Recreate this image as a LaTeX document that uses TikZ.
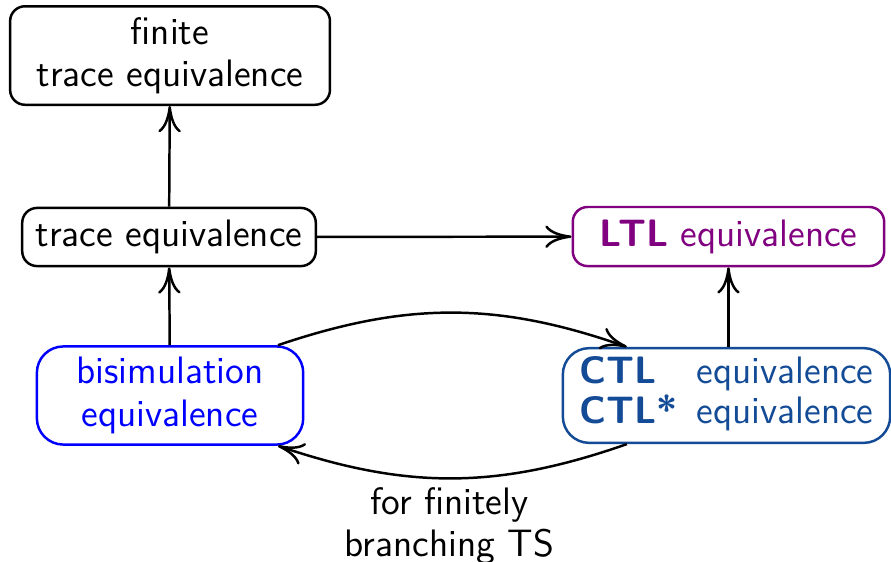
\documentclass[tikz,border=0pt]{standalone}
\usepackage{tikz}
\usetikzlibrary{arrows.meta, positioning}
\definecolor{BisimBlue}{RGB}{0, 0, 255}
\definecolor{CtlBlue}{RGB}{20, 75, 150}
\definecolor{LtlPurple}{RGB}{128, 0, 128}

\begin{document}
\begin{tikzpicture}[
  eqbox/.style={draw, rounded corners=4.5pt, line width=0.75pt, font=\sffamily\fontsize{11.6}{12.8}\selectfont, align=center, inner xsep=4pt},
  bigbox/.style={eqbox, rounded corners=8pt, minimum height=1.01cm},
  arr/.style={-{Computer Modern Rightarrow[length=2.8mm, width=2.4mm]}, line width=0.75pt}]
\useasboundingbox (0, 0) rectangle (9.5, -5.992);
\node[eqbox, minimum width=3.41cm, minimum height=1.01cm] (fin) at (1.813, -0.592) {finite\\ trace equivalence};
\node[eqbox, minimum width=3.13cm, minimum height=0.62cm] (tr) at (1.802, -2.527) {trace equivalence};
\node[eqbox, draw=LtlPurple, text=LtlPurple, minimum width=3.32cm, minimum height=0.63cm] (ltl) at (7.767, -2.522) {\textbf{LTL} equivalence};
\node[bigbox, draw=BisimBlue, text=BisimBlue, minimum width=2.84cm] (bis) at (1.813, -4.217) {bisimulation\\ equivalence};
\node[bigbox, draw=CtlBlue, text=CtlBlue, minimum width=3.49cm, inner ysep=0pt] (ctl) at (7.746, -4.217) {\renewcommand{\arraystretch}{0.92}\begin{tabular}{@{}l@{\hspace{0.5em}}l@{}}\textbf{CTL} & equivalence\\ \textbf{CTL*} & equivalence\end{tabular}};
\draw[arr] (tr) -- (fin); \draw[arr] (bis) -- (tr); \draw[arr] (tr) -- (ltl); \draw[arr] (ctl.north -| ltl.south) -- (ltl.south);
\draw[arr] (bis.25) to[bend left=19] (ctl.154);
\draw[arr] (ctl.206) to[bend left=19] node[below, align=center, font=\sffamily\fontsize{11.6}{12.8}\selectfont, inner sep=2.5pt, xshift=-1pt] {for finitely\\ branching TS} (bis.335);
\end{tikzpicture}
\end{document}
